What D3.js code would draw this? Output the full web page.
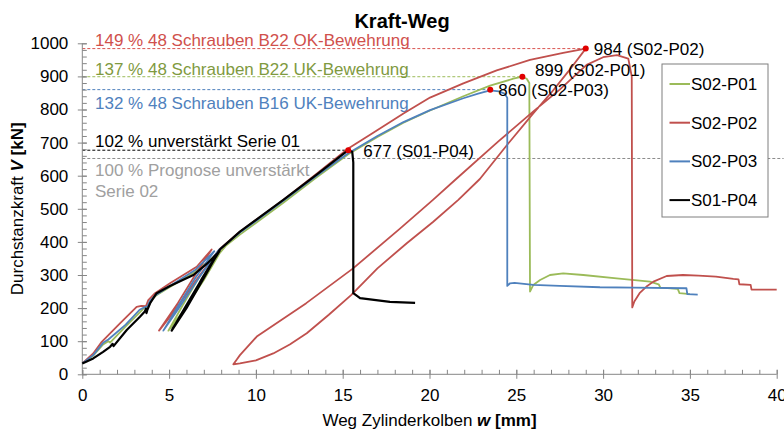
<!DOCTYPE html>
<html><head><meta charset="utf-8">
<script src="https://cdn.jsdelivr.net/npm/d3@7/dist/d3.min.js"></script>
<style>
body{margin:0;background:#fff;}
svg{display:block;font-family:"Liberation Sans",Arial,sans-serif;}
</style></head>
<body><svg id="c" width="784" height="432"></svg>
<script>
// ---------- data ----------
const seriesNames = ["S02-P01","S02-P02","S02-P03","S01-P04"];
const seriesColors = ["#9bbb59","#c0504d","#4f81bd","#000000"];

// [w (mm), V (kN)]
const s02p01 = [[0,33],[0.6,55],[1.2,90],[1.5,100],[1.6,96],[2.5,145],[3.5,197],[3.75,205],[3.9,220],[4.25,238],[5.0,262],[6.5,310],[7.7,360],
 [6.8,300],[5.8,210],[4.96,132],[5.8,190],[7.0,285],[7.9,365],[8.3,390],[9.08,422],[11.58,518],[13.5,595],[15.32,665],[17,717],[18.5,760],
 [20.03,797],[21.95,840],[23.49,872],[24.83,893],[25.35,899],[25.6,893],[25.75,880],[25.79,250],[25.98,270],[26.37,285],[26.94,300],[27.7,305],
 [28.86,300],[30.78,290],[32.7,280],[33.2,272],[33.3,262],[34.3,258],[34.4,245],[35,242]];
const s02p02 = [[0,33],[0.63,63],[1.12,98],[2.17,154],[3.13,204],[3.4,207],[3.67,206],[3.8,224],[4.19,245],[5.05,275],[6.59,325],[7.45,377],
 [6.5,300],[5.5,215],[4.42,132],[5.3,190],[6.5,280],[7.9,378],[9.08,431],[11.58,527],[13.5,606],[15.32,682],[16.76,730],[18.5,788],[20.03,836],
 [21.95,879],[23.87,918],[25.79,950],[27.7,971],[29,984],
 [28,915],[27,850],[26,790],[24.5,695],[22.9,590],[21.66,527],[20.2,460],[18.69,396],[17,320],[15.5,240],[14.2,180],[12.93,124],[11.95,90],
 [11,63],[10,42],[9.08,33],[8.7,30],
 [8.9,45],[9.08,58],[10.05,114],[12.9,215],[15.6,320],[18.3,440],[20.2,527],[21.47,587],[24,705],[26,795],[27.5,860],[29.05,935],[30,958],
 [30.8,964],[31.45,954],[31.65,900],[31.68,202],[31.8,220],[32.1,245],[32.5,265],[32.9,280],[33.66,297],[34.6,300],[35.5,298],[36.5,295],
 [37.5,288],[37.8,287],[37.85,272],[38.5,270],[38.55,256],[40,256]];
const s02p03 = [[0,33],[0.63,58],[1.2,95],[1.5,105],[2.5,150],[3.3,195],[3.6,203],[3.75,205],[3.9,222],[4.2,238],[5.0,265],[6.5,315],[7.6,372],
 [6.5,290],[5.5,205],[4.67,132],[5.5,195],[6.7,290],[7.85,375],[9.08,428],[11.58,524],[13.5,600],[15.32,668],[17,720],[18.5,762],[20.03,798],
 [21.95,834],[22.8,848],[23.49,858],[24,855],[24.35,847],[24.48,835],[24.48,267],[24.64,275],[24.9,276],[25.98,270],[27.5,267],[29.82,263],
 [31.74,262],[34.8,260],[34.85,242],[35.45,241]];
const s01p04 = [[0,33],[0.63,48],[1.2,68],[1.6,83],[1.75,92],[1.8,85],[2.56,134],[3.32,174],[3.6,190],[3.67,198],[3.7,185],[3.75,195],[3.9,214],
 [4.28,245],[5.05,267],[6.4,300],[7.2,335],[7.9,372],[6.8,280],[5.9,200],[5.15,132],[6.0,200],[7.1,300],[7.9,375],[6.9,290],[5.9,195],[5.2,138],
 [6.2,220],[7.3,320],[7.95,378],[9.08,431],[11.58,527],[13.5,603],[15.32,677],[15.55,672],[15.61,640],[15.61,245],[16.0,230],[17.72,219],[19.17,216]];
const seriesData = [s02p01, s02p02, s02p03, s01p04];

// peak points
const peakW = [29, 25.35, 23.5, 15.32];
const peakV = [984, 899, 860, 677];
const peakLabels = ["984 (S02-P02)","899 (S02-P01)","860 (S02-P03)","677 (S01-P04)"];

// reference lines (dashed) and their labels
const refV = [984, 899, 860, 677, 652];
const refEndW = [29, 25.35, 23.5, 15.32, 40.4];
const refColors = ["#d9534f","#9bbb59","#4f81bd","#000000","#8c8c8c"];
const refTextColors = ["#d0504c","#7f9a3f","#4f81bd","#000000","#a0a0a0"];
const refLabels = [["149 % 48 Schrauben B22 OK-Bewehrung"],["137 % 48 Schrauben B22 UK-Bewehrung"],["132 % 48 Schrauben B16 UK-Bewehrung"],
  ["102 % unverstärkt Serie 01"],["100 % Prognose unverstärkt","Serie 02"]];

const xTicks = [0,5,10,15,20,25,30,35,40];
const yTicks = [0,100,200,300,400,500,600,700,800,900,1000];
const title = "Kraft-Weg";

// ---------- drawing ----------
const svg = d3.select("#c");
const x = d3.scaleLinear().domain([0,40]).range([82.3,776.7]);
const y = d3.scaleLinear().domain([0,1000]).range([374.3,43.3]);
const axisColor = "#868686";

// title
svg.append("text").attr("x",402).attr("y",28).attr("text-anchor","middle")
  .attr("font-size",20).attr("font-weight","bold").text(title);

// reference dashed lines
refV.forEach((v,i)=>{
  svg.append("line").attr("x1",x(0)).attr("x2",Math.min(x(refEndW[i]),784))
    .attr("y1",y(v)).attr("y2",y(v))
    .attr("stroke",refColors[i]).attr("stroke-width",1).attr("stroke-dasharray","3,2");
});
// reference labels
const refBase = [46, 74.5, 109, 146.5, 176];
refLabels.forEach((lines,i)=>{
  lines.forEach((t,j)=>{
    svg.append("text").attr("x",95).attr("y",refBase[i]+j*20.5)
      .attr("font-size",17).attr("fill",refTextColors[i]).text(t);
  });
});

// axes
const fmt = d3.format("d");
const gy = svg.append("g").attr("transform",`translate(${x(0)},0)`);
gy.call(d3.axisLeft(y).tickValues(d3.range(0,1001,20)).tickSize(-4.5).tickFormat(""));
gy.selectAll(".tick line").attr("stroke",axisColor);
const gy2 = svg.append("g").attr("transform",`translate(${x(0)},0)`);
gy2.call(d3.axisLeft(y).tickValues(yTicks).tickSize(4.5).tickPadding(9.5).tickFormat(fmt));
gy2.selectAll(".tick line").attr("x1",4.5).attr("stroke",axisColor);
gy2.selectAll(".tick text").attr("font-size",17).attr("font-family","Liberation Sans, Arial").attr("fill","#000");
svg.selectAll(".domain").remove();

const gx = svg.append("g").attr("transform",`translate(0,${y(0)})`);
gx.call(d3.axisBottom(x).tickValues(d3.range(0,41,1)).tickSize(-4.5).tickFormat(""));
gx.selectAll(".tick line").attr("stroke",axisColor);
const gx2 = svg.append("g").attr("transform",`translate(0,${y(0)})`);
gx2.call(d3.axisBottom(x).tickValues(xTicks).tickSize(4.5).tickPadding(10).tickFormat(fmt));
gx2.selectAll(".tick line").attr("y1",-4.5).attr("stroke",axisColor);
gx2.selectAll(".tick text").attr("font-size",17).attr("font-family","Liberation Sans, Arial").attr("fill","#000");
svg.selectAll(".domain").remove();
svg.append("line").attr("x1",x(0)).attr("x2",x(0)).attr("y1",y(1000)).attr("y2",y(0)).attr("stroke",axisColor);
svg.append("line").attr("x1",x(0)).attr("x2",x(40)).attr("y1",y(0)).attr("y2",y(0)).attr("stroke",axisColor);

// axis titles
const yl = svg.append("text").attr("transform",`translate(23,${(y(0)+y(1000))/2}) rotate(-90)`)
  .attr("text-anchor","middle").attr("font-size",17);
yl.append("tspan").text("Durchstanzkraft ");
yl.append("tspan").attr("font-weight","bold").attr("font-style","italic").text("V");
yl.append("tspan").attr("font-weight","bold").text(" [kN]");
const xl = svg.append("text").attr("x",(x(0)+x(40))/2).attr("y",426)
  .attr("text-anchor","middle").attr("font-size",17);
xl.append("tspan").text("Weg Zylinderkolben ");
xl.append("tspan").attr("font-weight","bold").attr("font-style","italic").text("w");
xl.append("tspan").attr("font-weight","bold").text(" [mm]");

// series lines
const line = d3.line().x(d=>x(d[0])).y(d=>y(d[1]));
seriesData.forEach((d,i)=>{
  svg.append("path").datum(d).attr("d",line).attr("fill","none")
    .attr("stroke",seriesColors[i]).attr("stroke-width",i===3?2.2:1.8)
    .attr("stroke-linejoin","round");
});

// peak dots and labels
const lblDx = [8, 12.5, 8, 15];
const lblDy = [6.5, -0.5, 6.5, 7];
peakW.forEach((w,i)=>{
  svg.append("circle").attr("cx",x(w)).attr("cy",y(peakV[i])).attr("r",3).attr("fill","#e00000");
  svg.append("text").attr("x",x(w)+lblDx[i]).attr("y",y(peakV[i])+lblDy[i])
    .attr("font-size",17).text(peakLabels[i]);
});

// legend
const lg = svg.append("g");
lg.append("rect").attr("x",662).attr("y",64).attr("width",106).attr("height",153)
  .attr("fill","#fff").attr("stroke","#7f7f7f").attr("stroke-width",1);
seriesNames.forEach((n,i)=>{
  const yy = 84 + i*38.7;
  lg.append("line").attr("x1",669.5).attr("x2",690).attr("y1",yy).attr("y2",yy)
    .attr("stroke",seriesColors[i]).attr("stroke-width",2);
  lg.append("text").attr("x",691).attr("y",yy+6).attr("font-size",17).text(n);
});
</script></body></html>
